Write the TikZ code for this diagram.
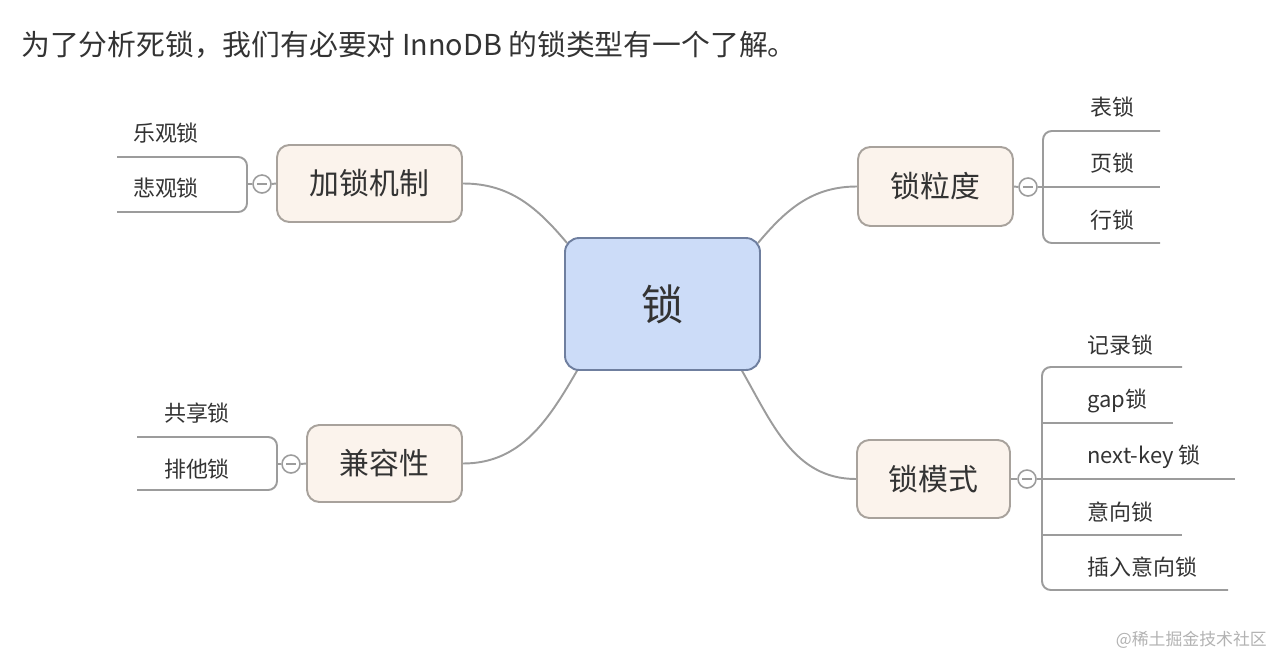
\documentclass[tikz,border=0pt]{standalone}
\usepackage{fontspec}
\setmainfont{Noto Sans CJK SC}
\usepackage{tikz}
\usetikzlibrary{backgrounds}
\definecolor{txtgray}{HTML}{333333}
\definecolor{linegray}{HTML}{9C9C9C}
\definecolor{boxfill}{HTML}{FBF3EC}
\definecolor{boxdraw}{HTML}{A8A29C}
\definecolor{corefill}{HTML}{CCDCF8}
\definecolor{coredraw}{HTML}{6F7F9F}

\begin{document}
\begin{tikzpicture}[x=0.02cm, y=-0.02cm,
		topic/.style={draw=boxdraw, fill=boxfill, line width=1.1pt, rounded corners=7pt,
				inner sep=0pt, text=txtgray, font=\fontsize{17}{20}\selectfont},
		core/.style={draw=coredraw, fill=corefill, line width=1.1pt, rounded corners=8pt,
				inner sep=0pt, text=txtgray, font=\fontsize{24}{28}\selectfont},
		fold/.style={circle, draw=linegray, fill=white, line width=0.9pt, minimum size=0.36cm, inner sep=0pt,
				path picture={\draw[linegray, line width=0.6pt] ([xshift=-1mm]path picture bounding box.center) -- ([xshift=1mm]path picture bounding box.center);}},
		leaf/.style={inner sep=0pt, text=txtgray, font=\fontsize{12.5}{15}\selectfont},
		branch/.style={draw=linegray, line width=1.1pt, rounded corners=5pt},
		link/.style={draw=linegray, line width=1.1pt}]
		\useasboundingbox (0,0) rectangle (1280,659);

		\node[anchor=west, text=txtgray, font=\fontsize{16.4}{19}\selectfont] (title) at (15,45)
			{为了分析死锁，我们有必要对 InnoDB 的锁类型有一个了解。};

		% centre and the four topics
		\node[core, minimum width=3.9cm, minimum height=2.64cm] (suo) at (662.5,304) {锁};
		\node[topic, minimum width=3.7cm, minimum height=1.54cm] (jiasuo) at (369.5,183.5) {加锁机制};
		\node[topic, minimum width=3.1cm, minimum height=1.58cm] (lidu) at (935.5,186.5) {锁粒度};
		\node[topic, minimum width=3.1cm, minimum height=1.54cm] (jianrong) at (384.5,463.5) {兼容性};
		\node[topic, minimum width=3.06cm, minimum height=1.56cm] (moshi) at (933.5,479) {锁模式};

		\begin{scope}[on background layer]
			\draw[link] (jiasuo.east) to[out=0, in=130] ([shift={(3,6)}]suo.north west);
			\draw[link] (lidu.west) to[out=180, in=50] ([shift={(-3,6)}]suo.north east);
			\draw[link] (jianrong.east) to[out=0, in=-120] ([shift={(14,-2)}]suo.south west);
			\draw[link] (moshi.west) to[out=180, in=-60] ([shift={(-20,-2)}]suo.south east);
		\end{scope}

		% fold buttons
		\node[fold] (f1) at (262,184) {};
		\node[fold] (f2) at (1028,187) {};
		\node[fold] (f3) at (291,464) {};
		\node[fold] (f4) at (1027,479) {};
		\draw[link] (f1.east) -- (jiasuo.west);
		\draw[link] (f2.west) -- (lidu.east);
		\draw[link] (f3.east) -- (jianrong.west);
		\draw[link] (f4.west) -- (moshi.east);

		% 加锁机制
		\coordinate (s1) at (247,184);
		\draw[link] (f1.west) -- (s1);
		\draw[branch] (117,157) -- (s1 |- 0,157) -- (s1 |- 0,212) -- (117,212);
		\foreach \txt/\yy/\n in {乐观锁/133/a, 悲观锁/188/b}
		\node[leaf] (j\n) at (166,\yy) {\txt};

		% 兼容性
		\coordinate (s3) at (277,464);
		\draw[link] (f3.west) -- (s3);
		\draw[branch] (137,437) -- (s3 |- 0,437) -- (s3 |- 0,490) -- (137,490);
		\foreach \txt/\yy/\n in {共享锁/413/a, 排他锁/469/b}
		\node[leaf] (c\n) at (197,\yy) {\txt};

		% 锁粒度
		\coordinate (s2) at (1043,187);
		\draw[branch] (1160,131) -- (s2 |- 0,131) -- (s2 |- 0,243) -- (1160,243);
		\draw[link] (f2.east) -- (1160,187);
		\foreach \txt/\yy/\n in {表锁/107/a, 页锁/163/b, 行锁/220/c}
		\node[leaf] (l\n) at (1112,\yy) {\txt};

		% 锁模式
		\coordinate (s4) at (1042,479);
		\draw[branch] (1182,367) -- (s4 |- 0,367) -- (s4 |- 0,590) -- (1228,590);
		\draw[link] (s4 |- 0,423) -- (1173,423);
		\draw[link] (f4.east) -- (1235,479);
		\draw[link] (s4 |- 0,535) -- (1182,535);
		\foreach \txt/\yy/\n in {记录锁/345/a, gap锁/401/b, next-key 锁/457/c, 意向锁/512/d, 插入意向锁/567/e}
		\node[leaf, anchor=west] (m\n) at (1087,\yy) {\txt};

		\node[anchor=east, text=black!30, font=\fontsize{9.6}{12}\selectfont] (mark) at (1273,640) {@稀土掘金技术社区};
	\end{tikzpicture}
\end{document}
